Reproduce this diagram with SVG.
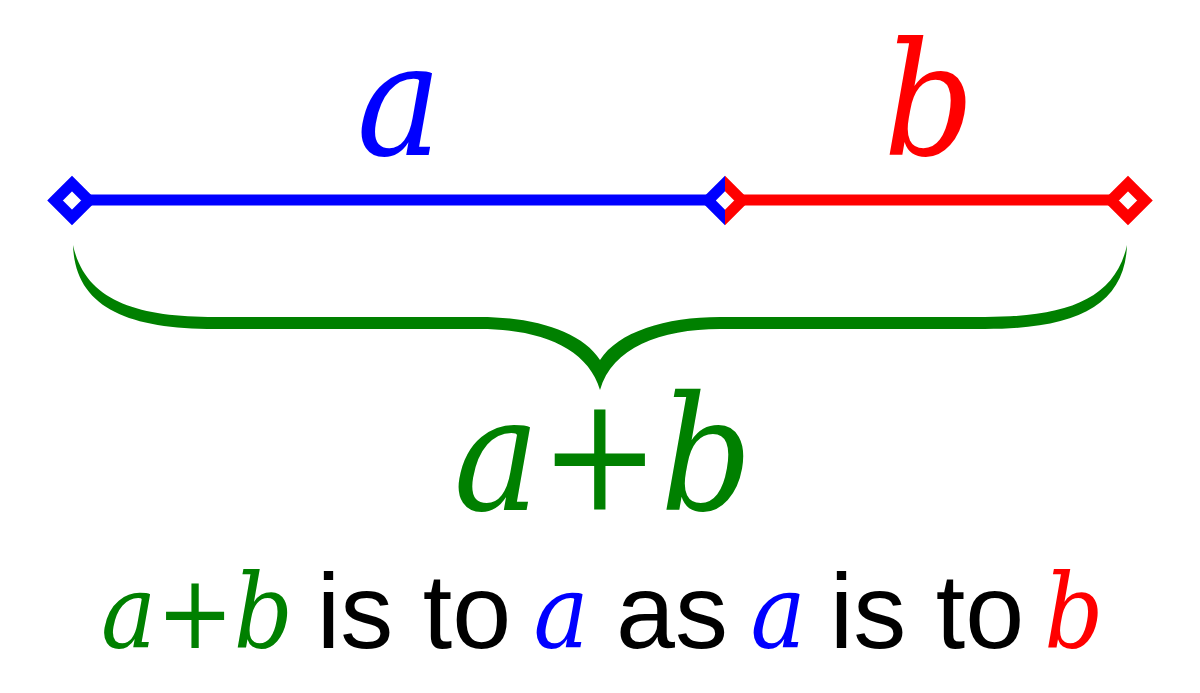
<svg xmlns="http://www.w3.org/2000/svg" width="1200" height="693" viewBox="0 0 1200 693">
<style>
.m{font-family:"DejaVu Serif",serif;font-style:italic;font-stretch:condensed;text-anchor:middle}
.s{font-family:"Liberation Sans",Arial,sans-serif;text-anchor:middle;fill:#000}
.blue{fill:#0000ff}
.red{fill:#ff0000}
.green{fill:#008000}
.dia{fill:#fff;stroke-width:11;stroke-linejoin:miter}
</style>
<defs>
<clipPath id="leftHalf"><rect x="690" y="160" width="35" height="80"/></clipPath>
<clipPath id="rightHalf"><rect x="725" y="160" width="45" height="80"/></clipPath>
</defs>
<rect width="1200" height="693" fill="#fff"/>
<g id="connectors">
<line x1="72" y1="200" x2="725" y2="200" stroke="#0000ff" stroke-width="11"/>
<line x1="725" y1="200" x2="1128" y2="200" stroke="#ff0000" stroke-width="11"/>
</g>
<g id="point-left">
<polygon class="dia" stroke="#0000ff" points="55,200.5 72,183.5 89,200.5 72,217.5"/>
</g>
<g id="point-mid">
<polygon class="dia" stroke="#0000ff" points="708,200.5 725,183.5 742,200.5 725,217.5" clip-path="url(#leftHalf)"/>
<polygon class="dia" stroke="#ff0000" points="708,200.5 725,183.5 742,200.5 725,217.5" clip-path="url(#rightHalf)"/>
</g>
<g id="point-right">
<polygon class="dia" stroke="#ff0000" points="1111,200.5 1128,183.5 1145,200.5 1128,217.5"/>
</g>
<g id="label-a"><text class="m blue" x="399" y="155" font-size="158">a</text></g>
<g id="label-b"><text class="m red" x="929" y="155" font-size="158">b</text></g>
<g id="brace">
<path fill="#008000" d="M73,245 C85,300 135,317 215,317 L480,317 C535,317 582,332 600,360 C618,332 665,317 720,317 L985,317 C1065,317 1115,300 1127,245 C1125,306 1075,329 985,329 L720,329 C660,329 612,348 600,390 C588,348 540,329 480,329 L215,329 C125,329 75,306 73,245 Z"/>
</g>
<g id="label-sum"><text class="m green" x="603" y="510" font-size="160">a+b</text></g>
<g id="caption">
<text class="m green" x="197" y="648" font-size="103">a+b</text>
<text class="s" x="414" y="648" font-size="106">is to</text>
<text class="m blue" x="561" y="648" font-size="103">a</text>
<text class="s" x="672" y="648" font-size="106">as</text>
<text class="m blue" x="778" y="648" font-size="103">a</text>
<text class="s" x="927" y="648" font-size="106">is to</text>
<text class="m red" x="1074" y="648" font-size="103">b</text>
</g>
</svg>
